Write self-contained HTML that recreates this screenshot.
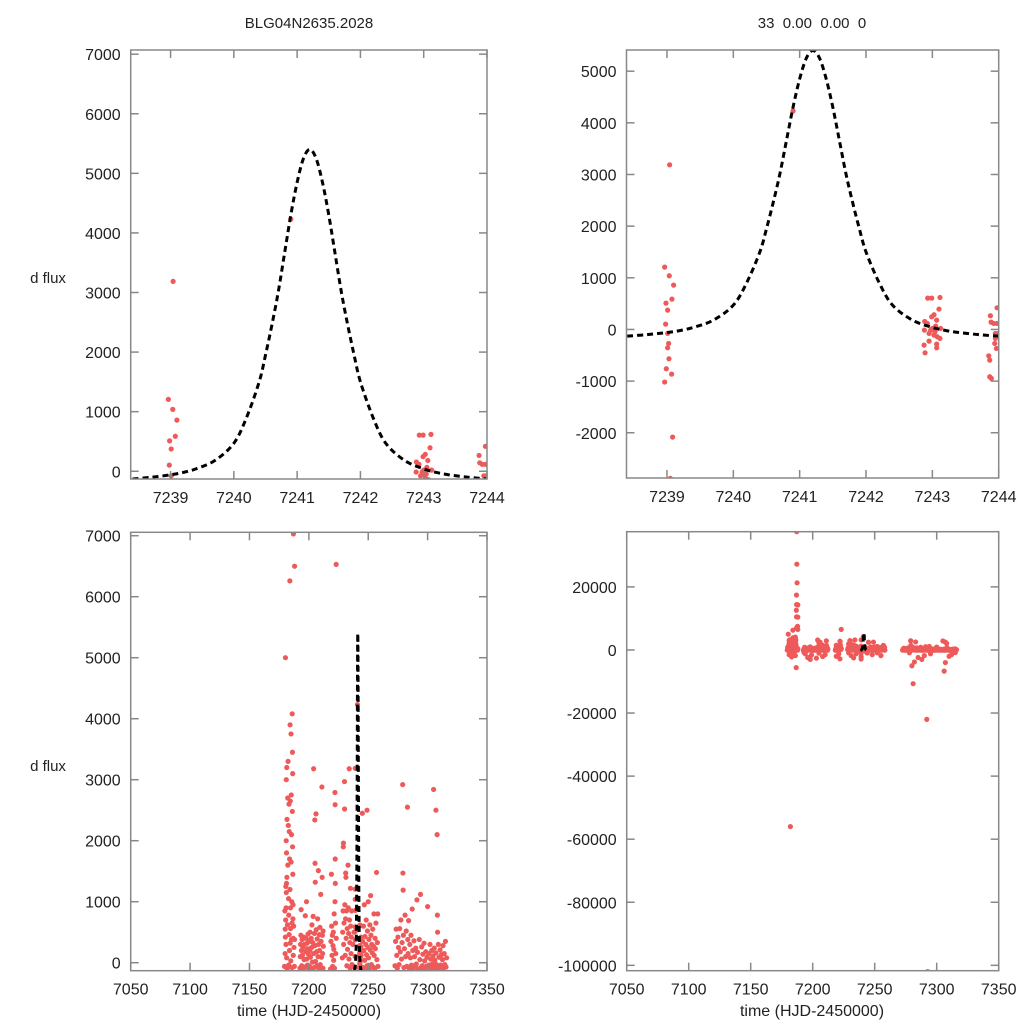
<!DOCTYPE html>
<html><head><meta charset="utf-8"><style>
html,body{margin:0;padding:0;background:#fff;width:1024px;height:1024px;overflow:hidden;}
svg{display:block;font-family:"Liberation Sans",sans-serif;}
</style></head><body>
<svg id="chart" width="1024" height="1024" viewBox="0 0 1024 1024">
<text x="309" y="28" font-size="15" text-anchor="middle" fill="#222">BLG04N2635.2028</text>
<text x="812" y="28" font-size="15" text-anchor="middle" fill="#222" xml:space="preserve">33  0.00  0.00  0</text>
<text x="48" y="283" font-size="15" text-anchor="middle" fill="#222">d flux</text>
<text x="48" y="771" font-size="15" text-anchor="middle" fill="#222">d flux</text>
<text x="309" y="1016" font-size="16" text-anchor="middle" fill="#222">time (HJD-2450000)</text>
<text x="812" y="1016" font-size="16" text-anchor="middle" fill="#222">time (HJD-2450000)</text>
</svg>
<script>
const lcTime = [
7179.5,7180,7180.2,7180.5,7180.8,7181,7181.2,7180.3,7181.4,7181,7181.6,7180.9,7181.2,7181.5,7180.6,7179.8,7180.1,7180.7,7181.3,7181.8,7182,7182.3,7182.5,7182.2,7182.7,7182.9,7183.1,7183.4,7183.7,7183,7183.3,7183.5,7183.8,7184,7184.2,7184.4,7184.1,7184.5,7184.6,7184.3,7184.8,7185,7185.2,7185.4,7185.1,7185.6,7185.8,7185.3,7185.9,7186,7186.2,7186.4,7186.1,7186.3,7186.5,7186.7,7186.6,7186.8,7186.9,7187,7187.2,7187.5,7187.8,7188,7187.1,7187.2,7187.4,7186.9,7187,7188,7186.8,7187,7188,7187.8,7188,7186.7,7182,7181,7183,7185,7184,7186,
7192.5,7192.8,7193,7193.3,7193.5,7193.7,7194,7194.3,7194.6,7195,7195.3,7195.6,7196,7196.3,7196.7,7197,7197.3,7197.6,7198,7198.2,7198.5,7198.8,7199,7199.3,7199.6,7199.9,7194,7196,7198,7193,7199,
7200.2,7200.5,7200.8,7201,7201.3,7201.6,7202,7202.3,7202.6,7203,7203.3,7203.6,7204,7204,7204.4,7204.7,7205,7205.2,7205.4,7205.1,7205.6,7206,7206.2,7206.5,7206.8,7207,7207.4,7207.7,7208,7208.2,7208.5,7208.8,7209,7209.3,7209.6,7210,7210.3,7210.6,7211,7211.2,7211.4,7211.6,7211.9,7212,7212.2,7205,7208,7210,7203,
7218.3,7218.6,7219,7219.2,7219.5,7219.8,7220,7220.3,7220.6,7220.9,7221,7221.3,7221.6,7222,7222.1,7222.2,7222.3,7222,7222.5,7222.7,7223,7223.1,7219,7221,7222,
7228.2,7228.5,7228.8,7229,7229.1,7229.3,7229.6,7230,7230.1,7230.3,7230.6,7230.9,7231,7231.2,7231.4,7231.7,7232,7232.3,7232.6,7233,7233.2,7233.5,7233.8,7234,7234.2,7234.5,7234.8,7235,7235.2,7235.5,7235.8,7236,7236.3,7231,7233,7235,7229,
7237,7237.5,7238,7245,7245.3,7245.6,7246,7246.3,7246.7,7247,7247.3,7247.6,7248,7248.3,7248.6,7249,7249.3,7249.7,7250,7250.3,7250.6,7251,7251.3,7251.6,7252,7252.3,7252.6,7253,7253.4,7253.8,7254,7254.4,7254.8,7255,7255.4,7255.8,7256,7256.5,7257,7257.3,7257.7,7258,7258.2,7248,7252,7255,7249,
7272.5,7273,7273.5,7274,7274.5,7275,7275.5,7276,7276.5,7277,7277.5,7278,7278.5,7279,7279.2,7279.4,7279.6,7280,7280.5,7281,7281.5,7282,7282.5,7283,7283.3,7283.6,7284,7284.5,7285,7285.5,7286,7286.5,7287,7287.5,7288,7288.5,7289,7289.5,7290,7290.5,7291,7291.5,7292,7292.7,7292,7293,7293.5,7294,7294.5,7295,7295.5,7296,7296.5,7297,7297.5,7298,7298.5,7299,7299.5,7281,7280,7282,7285,7290,7295,7278,7288,
7300,7300.5,7301,7301.5,7302,7302.5,7303,7303.5,7304,7304.5,7305,7305.3,7305.6,7306,7306.5,7307,7307.5,7308,7308.2,7308.4,7308.6,7309,7309.5,7310,7310.5,7311,7311.5,7312,7312.5,7313,7313.5,7314,7314.5,7315,7315.5,7316,7306,7307,7310,7312,7315,7307,
7238.965,7239.04,7239.035,7239.1,7238.985,7239.075,7239.01,7238.98,7239.01,7239.025,7239.01,7239.03,7238.99,7239.07,7238.965,7239.085,7239.05,7240.9,
7242.93,7242.99,7243.115,7243.1,7242.99,7243.025,7242.885,7242.925,7243.065,7242.88,7243.0,7243.05,7243.125,7242.95,7243.025,7243.075,7243.115,7242.95,7242.875,7243.065,7243.065,7242.89,7242.975,7243.04,
7243.875,7243.975,7243.885,7243.925,7243.975,7243.95,7243.99,7243.95,7243.94,7243.965,7243.85,7243.865,7243.865,7243.89
];
const lcFlux = [
-60,150,420,700,900,1150,1300,5000,3200,3000,2350,2000,1800,1400,1250,850,550,300,80,-100,620,1600,3300,2700,2250,1050,780,460,200,-40,2600,2150,1700,6260,3900,2650,1200,900,560,320,30,3750,2750,2100,1650,1000,650,380,-80,4080,3450,3100,2480,1900,1450,950,720,400,120,7030,600,250,-60,380,37500,27200,21300,17400,14400,14300,12600,10500,10400,7500,6500,-5600,-56000,-1500,-2200,-900,-600,-1800,
-90,100,300,450,870,200,-50,380,120,250,-100,420,50,300,-70,770,180,400,1000,60,320,-40,230,470,140,-100,-1200,-2400,-3000,-800,-1600,
350,-60,200,500,90,-90,400,250,620,10,330,760,3180,150,-80,480,2340,1630,1320,280,20,2440,540,180,-50,390,720,100,1510,300,-100,460,200,580,-30,1120,350,90,2880,1400,450,150,-90,520,270,-1000,-2100,-1500,-2600,
-100,350,1450,600,120,450,-60,280,500,40,220,800,-90,2790,2590,1700,1300,1000,650,150,6530,400,-2000,-1300,-2800,
80,500,850,1900,1960,300,650,2970,2520,950,120,720,1470,1400,400,850,-50,560,220,1600,900,480,60,3180,700,330,-90,1220,600,150,420,850,-30,-1800,-2500,-1200,-900,
300,-60,500,2450,350,-80,600,200,950,40,430,-100,300,700,130,-50,520,250,1000,80,380,-90,620,210,1100,450,-30,300,160,550,-70,270,800,120,-100,400,230,650,1480,50,330,800,-60,-1500,-900,-1800,2500,
-50,350,550,120,-90,420,250,-30,560,180,700,60,330,2920,1470,1190,450,-80,230,780,100,520,-60,2550,380,150,690,-100,300,80,450,-40,880,200,-90,360,100,-70,240,-20,1030,170,-22000,-102000,-100,380,50,1120,-80,260,-50,140,-90,320,30,-100,180,-60,90,-10700,-5000,-3800,-2400,-1800,-1200,-900,-3000,
920,-70,150,-40,300,60,-100,200,-20,110,2840,-80,240,40,-90,160,-30,2100,780,500,-60,300,90,-100,210,-40,130,-80,50,280,-90,150,-30,350,-70,80,-6700,-4000,-2000,-1500,-800,2500,
1206,3187,1039,858,510,587,374,103,-77,-271,-355,-568,-761,-865,-1019,-2084,-2884,4232,
606,606,619,394,245,284,155,116,181,-13,19,65,19,-77,-110,-142,-174,-226,-303,-284,-355,-452,-13,-45,
265,419,142,116,116,-77,-77,-174,-271,-368,-510,-594,-916,-948
];
const modelTime = [7238.4,7238.7,7239.0,7239.2,7239.4,7239.7,7240.0,7240.2,7240.4,7240.5,7240.6,7240.7,7240.8,7240.9,7241.0,7241.1,7241.2,7241.3,7241.4,7241.5,7241.6,7241.7,7241.8,7241.9,7242.0,7242.2,7242.4,7242.7,7243.0,7243.2,7243.4,7243.7,7244.0];
const modelFlux = [-130,-100,-60,-20,40,180,470,900,1500,1950,2450,3000,3650,4300,4850,5250,5400,5250,4850,4300,3650,3000,2450,1950,1500,900,470,180,40,-20,-60,-100,-130];
const xTicksZoom = [7239,7240,7241,7242,7243,7244];
const xTicksFull = [7050,7100,7150,7200,7250,7300,7350];
const yTicksTL = [0,1000,2000,3000,4000,5000,6000,7000];
const yTicksTR = [-2000,-1000,0,1000,2000,3000,4000,5000];
const yTicksBL = [0,1000,2000,3000,4000,5000,6000,7000];
const yTicksBR = [-100000,-80000,-60000,-40000,-20000,0,20000];

const NS = "http://www.w3.org/2000/svg";
const svg = document.getElementById('chart');
function mk(tag, attrs, parent){const e=document.createElementNS(NS,tag);for(const k in attrs)e.setAttribute(k,attrs[k]);(parent||svg).appendChild(e);return e;}

const panels = [
 {id:'top-left', L:130.7,R:487,T:50,B:479, x0:7238.37,x1:7244, y0:-130,y1:7070, xt:xTicksZoom, yt:yTicksTL, lineW:3},
 {id:'top-right', L:626.5,R:998.7,T:50,B:478, x0:7238.39,x1:7244, y0:-2876,y1:5410, xt:xTicksZoom, yt:yTicksTR, lineW:3},
 {id:'bottom-left', L:130.7,R:487,T:532.3,B:970.7, x0:7050,x1:7350, y0:-131,y1:7056, xt:xTicksFull, yt:yTicksBL, lineW:3},
 {id:'bottom-right', L:626.7,R:998.7,T:531.7,B:970.7, x0:7050,x1:7350, y0:-101700,y1:37500, xt:xTicksFull, yt:yTicksBR, lineW:3}
];

panels.forEach((p,pi)=>{
  const g = mk('g',{});
  
  
  const sx = t => p.L + (t-p.x0)/(p.x1-p.x0)*(p.R-p.L);
  const sy = v => p.B - (v-p.y0)/(p.y1-p.y0)*(p.B-p.T);
  const cid = 'clip'+pi;
  const cp = mk('clipPath',{id:cid},g);
  mk('rect',{x:p.L,y:p.T,width:p.R-p.L,height:p.B-p.T},cp);
  const pts = mk('g',{'clip-path':'url(#'+cid+')'},g);
  
  
  for(let i=0;i<lcTime.length;i++){
    const t=lcTime[i], v=lcFlux[i];
    if(t<p.x0-1||t>p.x1+1) continue;
    const c = mk('circle',{cx:sx(t).toFixed(2),cy:sy(v).toFixed(2),r:2.6,fill:'#ee5a5a'},pts);
    
    
  }
  const P = modelTime.map((t,i)=>[sx(t),sy(modelFlux[i])]);
  let d='M'+P[0][0].toFixed(2)+','+P[0][1].toFixed(2);
  for(let i=0;i<P.length-1;i++){
    const p0=P[Math.max(0,i-1)],p1=P[i],p2=P[i+1],p3=P[Math.min(P.length-1,i+2)];
    const c1=[p1[0]+(p2[0]-p0[0])/6,p1[1]+(p2[1]-p0[1])/6];
    const c2=[p2[0]-(p3[0]-p1[0])/6,p2[1]-(p3[1]-p1[1])/6];
    d+=' C'+c1[0].toFixed(2)+','+c1[1].toFixed(2)+' '+c2[0].toFixed(2)+','+c2[1].toFixed(2)+' '+p2[0].toFixed(2)+','+p2[1].toFixed(2);
  }
  const model = mk('path',{d:d,fill:'none',stroke:'#000','stroke-width':p.lineW,'stroke-dasharray':'6,4','clip-path':'url(#'+cid+')'},g);
  
  
  const fr = mk('rect',{x:p.L,y:p.T,width:p.R-p.L,height:p.B-p.T,fill:'none',stroke:'#888','stroke-width':1.5},g);
  
  
  p.xt.forEach(t=>{
    const x=sx(t);
    mk('line',{x1:x,x2:x,y1:p.B,y2:p.B-8,stroke:'#888','stroke-width':1.5},g);
    mk('line',{x1:x,x2:x,y1:p.T,y2:p.T+8,stroke:'#888','stroke-width':1.5},g);
    const tx = mk('text',{x:x,y:p.B+24,'font-size':16,'text-anchor':'middle',fill:'#222'},g);
    tx.textContent = t;
    
    
  });
  p.yt.forEach(v=>{
    const y=sy(v);
    mk('line',{x1:p.L,x2:p.L+8,y1:y,y2:y,stroke:'#888','stroke-width':1.5},g);
    mk('line',{x1:p.R,x2:p.R-8,y1:y,y2:y,stroke:'#888','stroke-width':1.5},g);
    const ty = mk('text',{x:p.L-10,y:y+6,'font-size':16,'text-anchor':'end',fill:'#222'},g);
    ty.textContent = v;
    
    
  });
});
</script>
</body></html>
